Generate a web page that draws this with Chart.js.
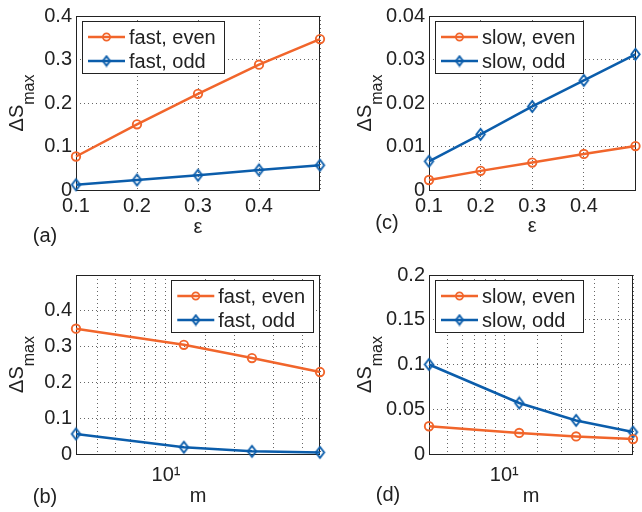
<!DOCTYPE html>
<html>
<head>
<meta charset="utf-8">
<script src="https://cdn.jsdelivr.net/npm/chart.js@4.4.0/dist/chart.umd.min.js"></script>
<style>
  body { margin: 0; background: #fff; }
  #wrap { position: relative; width: 642px; height: 512px; }
  #wrap canvas { position: absolute; left: 0; top: 0; }
</style>
</head>
<body>
<div id="wrap">
  <canvas id="chartA" width="642" height="512"></canvas>
  <canvas id="chartB" width="642" height="512"></canvas>
  <canvas id="chartC" width="642" height="512"></canvas>
  <canvas id="chartD" width="642" height="512"></canvas>
</div>
<script>
// values
const epsValues = [0.1, 0.2, 0.3, 0.4, 0.5];
const fastEvenEps = [0.077, 0.151, 0.221, 0.288, 0.347];
const fastOddEps = [0.012, 0.023, 0.034, 0.046, 0.057];
const slowEvenEps = [0.0023, 0.0044, 0.0063, 0.0083, 0.0101];
const slowOddEps = [0.0066, 0.0128, 0.0192, 0.0252, 0.0312];

const mValues = [4, 12, 24, 48];
const fastEvenM = [0.350, 0.305, 0.268, 0.229];
const fastOddM = [0.056, 0.019, 0.0075, 0.0045];
const slowEvenM = [0.031, 0.0235, 0.0196, 0.0167];
const slowOddM = [0.100, 0.057, 0.0375, 0.0245];

const FONT = '"Liberation Sans", Arial, sans-serif';
const TEXT = '#222';
const ORANGE = '#F1652B';
const BLUE = '#0B5DAB';

function diamondImage(color, s) {
  s = s || 1;
  const c = document.createElement('canvas');
  c.width = Math.ceil(13 * s); c.height = Math.ceil(15 * s);
  const g = c.getContext('2d');
  const cx = c.width / 2, cy = c.height / 2;
  g.strokeStyle = color; g.lineWidth = 1.9;
  g.beginPath();
  g.moveTo(cx, cy - 5.5 * s); g.lineTo(cx + 4.2 * s, cy);
  g.lineTo(cx, cy + 5.5 * s); g.lineTo(cx - 4.2 * s, cy);
  g.closePath(); g.stroke();
  return c;
}

function toPoints(xs, ys) {
  return xs.map((x, i) => ({ x: x, y: ys[i] }));
}

function evenSet(label, xs, ys) {
  return {
    label, data: toPoints(xs, ys), borderColor: ORANGE, borderWidth: 2.5,
    pointStyle: 'circle', pointRadius: 4.2, pointBorderWidth: 1.9,
    pointBorderColor: ORANGE, pointBackgroundColor: 'rgba(0,0,0,0)', clip: false
  };
}
function oddSet(label, xs, ys) {
  return {
    label, data: toPoints(xs, ys), borderColor: BLUE, borderWidth: 2.5,
    pointStyle: diamondImage(BLUE), pointBorderColor: BLUE, clip: false
  };
}

const decor = {
  id: 'decor',
  beforeDatasetsDraw(chart, args, o) {
    const { ctx, chartArea: a } = chart;
    ctx.save();
    ctx.strokeStyle = '#222'; ctx.lineWidth = 1;
    ctx.strokeRect(Math.round(a.left) + 0.5, Math.round(a.top) + 0.5,
      Math.round(a.right - a.left) - 1, Math.round(a.bottom - a.top));
    ctx.restore();
  },
  afterDraw(chart, args, o) {
    const { ctx, chartArea: a } = chart;
    ctx.save();
    ctx.fillStyle = TEXT;

    // y title: ΔS with subscript max
    const cy = (a.top + a.bottom) / 2;
    ctx.translate(o.yTitleX, cy);
    ctx.rotate(-Math.PI / 2);
    ctx.font = '20px ' + FONT;
    const w1 = ctx.measureText('ΔS').width;
    ctx.font = '16px ' + FONT;
    const w2 = ctx.measureText('max').width;
    const start = -(w1 + w2) / 2;
    ctx.textAlign = 'left'; ctx.textBaseline = 'alphabetic';
    ctx.font = '20px ' + FONT;
    ctx.fillText('ΔS', start, 0);
    ctx.font = '16px ' + FONT;
    ctx.fillText('max', start + w1, 11);
    ctx.setTransform(1, 0, 0, 1, 0, 0);

    // panel label
    ctx.font = '20px ' + FONT;
    ctx.textAlign = 'center'; ctx.textBaseline = 'middle';
    ctx.fillText(o.panel, o.panelX, o.panelY);

    // legend
    ctx.font = '20px ' + FONT;
    const sets = chart.data.datasets;
    const tw = Math.max(...sets.map(d => ctx.measureText(d.label).width));
    const w = 47 + tw + 8, h = 52;
    const x = o.legendSide === 'right' ? a.right - 7 - w : a.left + 6;
    const y = a.top + 5;
    ctx.fillStyle = '#fff';
    ctx.fillRect(x, y, w, h);
    ctx.strokeStyle = '#222'; ctx.lineWidth = 1;
    ctx.strokeRect(Math.round(x) + 0.5, Math.round(y) + 0.5, Math.round(w), h);
    sets.forEach((d, i) => {
      const ry = y + 16 + i * 24;
      ctx.strokeStyle = d.borderColor; ctx.lineWidth = 2.5;
      ctx.beginPath(); ctx.moveTo(x + 6, ry); ctx.lineTo(x + 43, ry); ctx.stroke();
      if (d.pointStyle === 'circle') {
        ctx.lineWidth = 1.7;
        ctx.beginPath(); ctx.arc(x + 24.5, ry, 3.6, 0, Math.PI * 2); ctx.stroke();
      } else {
        const img = diamondImage(d.borderColor, 0.85);
        ctx.drawImage(img, x + 24.5 - img.width / 2, ry - img.height / 2);
      }
      ctx.fillStyle = TEXT;
      ctx.textAlign = 'left'; ctx.textBaseline = 'middle';
      ctx.fillText(d.label, x + 47, ry + 1);
    });
    ctx.restore();
  }
};

// dotted grid lines (v4 takes the grid dash from border.dash)
const gridStyle = { color: 'rgba(0,0,0,0.6)', lineWidth: 1, drawTicks: false };
const borderStyle = { display: false, dash: [1, 3] };

function makePanel(id, p) {
  const axisH = p.axisBottom - p.bottom;
  return new Chart(document.getElementById(id), {
    type: 'line',
    data: { datasets: p.datasets },
    options: {
      responsive: false, animation: false, events: [],
      layout: { padding: { left: 0, top: p.top, right: 642 - p.right, bottom: 512 - p.axisBottom } },
      plugins: {
        legend: { display: false }, tooltip: { enabled: false },
        decor: p.decor
      },
      scales: {
        x: Object.assign({
          border: borderStyle,
          grid: gridStyle,
          title: { display: true, text: p.xTitle, color: TEXT, font: { family: FONT, size: 20 }, padding: { top: 0, bottom: p.xTitlePad } },
          afterFit: s => { s.height = axisH; }
        }, p.x),
        y: {
          min: p.yMin, max: p.yMax,
          border: borderStyle,
          grid: gridStyle,
          ticks: { stepSize: p.yStep, padding: 4, color: TEXT, font: { family: FONT, size: 20 }, callback: p.yLabel },
          afterFit: s => { s.width = p.left; }
        }
      }
    },
    plugins: [decor]
  });
}

const epsAxis = {
  type: 'linear', min: 0.1, max: 0.5,
  ticks: { stepSize: 0.1, padding: 4, color: TEXT, font: { family: FONT, size: 20 }, maxRotation: 0, autoSkip: false,
    callback: v => v < 0.45 ? v.toFixed(1) : '' }
};
const mAxis = {
  type: 'logarithmic', min: 4, max: 48,
  ticks: { padding: 9, color: TEXT, font: { family: FONT, size: 20 }, maxRotation: 0, autoSkip: false,
    callback: v => v === 10 ? '10\u00B9' : '' }
};

makePanel('chartA', {
  left: 76, right: 320, top: 16, bottom: 190, axisBottom: 256,
  datasets: [evenSet('fast, even', epsValues, fastEvenEps), oddSet('fast, odd', epsValues, fastOddEps)],
  x: epsAxis, xTitle: 'ε', xTitlePad: 17,
  yMin: 0, yMax: 0.4, yStep: 0.1, yLabel: v => String(+v.toFixed(1)),
  decor: { yTitleX: 23, panel: '(a)', panelX: 45, panelY: 236, legendSide: 'left' }
});

makePanel('chartC', {
  left: 429, right: 641, top: 16, bottom: 190, axisBottom: 256,
  datasets: [evenSet('slow, even', epsValues, slowEvenEps), oddSet('slow, odd', epsValues, slowOddEps)],
  x: epsAxis, xTitle: 'ε', xTitlePad: 18,
  yMin: 0, yMax: 0.04, yStep: 0.01, yLabel: v => String(+v.toFixed(2)),
  decor: { yTitleX: 371, panel: '(c)', panelX: 387, panelY: 223, legendSide: 'left' }
});

makePanel('chartB', {
  left: 76, right: 320, top: 275, bottom: 454, axisBottom: 512,
  datasets: [evenSet('fast, even', mValues, fastEvenM), oddSet('fast, odd', mValues, fastOddM)],
  x: mAxis, xTitle: 'm', xTitlePad: 4,
  yMin: 0, yMax: 0.5, yStep: 0.1, yLabel: v => v > 0.45 ? '' : String(+v.toFixed(1)),
  decor: { yTitleX: 23, panel: '(b)', panelX: 45, panelY: 497, legendSide: 'right' }
});

makePanel('chartD', {
  left: 429, right: 641, top: 275, bottom: 454, axisBottom: 512,
  datasets: [evenSet('slow, even', mValues, slowEvenM), oddSet('slow, odd', mValues, slowOddM)],
  x: mAxis, xTitle: 'm', xTitlePad: 4,
  yMin: 0, yMax: 0.2, yStep: 0.05, yLabel: v => String(+v.toFixed(2)),
  decor: { yTitleX: 371, panel: '(d)', panelX: 388, panelY: 495, legendSide: 'left' }
});
</script>
</body>
</html>
